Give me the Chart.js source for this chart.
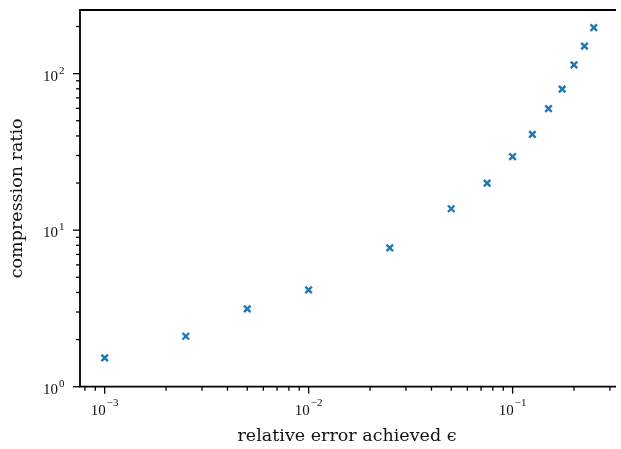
<!DOCTYPE html>
<html>
<head>
<meta charset="utf-8">
<script src="https://cdn.jsdelivr.net/npm/chart.js@4/dist/chart.umd.min.js"></script>
<style>
html, body { margin: 0; padding: 0; overflow: hidden; background: #fff; }
#wrap { width: 621px; height: 449px; position: relative; }
canvas { display: block; }
</style>
</head>
<body>
<div id="wrap"><canvas id="c" width="621" height="449"></canvas></div>
<script>
// ---- data ----
const relErrors = [0.001, 0.0025, 0.005, 0.01, 0.025, 0.05, 0.075, 0.1, 0.125, 0.15, 0.175, 0.2, 0.225, 0.25];
const compressionRatios = [1.53, 2.10, 3.14, 4.15, 7.7, 13.7, 20.0, 29.5, 40.9, 59.8, 79.6, 113.6, 150, 197];

// tick labels: base "10" with a superscript exponent
const xTickValues = [0.001, 0.01, 0.1];
const xTickExponents = ['\u22123', '\u22122', '\u22121'];
const yTickValues = [1, 10, 100];
const yTickExponents = ['0', '1', '2'];
const tickBase = '10';

const xTitle = 'relative error achieved \u03F5';
const yTitle = 'compression ratio';

const TITLE_FONT = "'DejaVu Serif', serif";
const TICK_FONT = "'Liberation Serif', 'DejaVu Serif', serif";

function logTicks(min, max) {
  const out = [];
  const e0 = Math.floor(Math.log10(min)), e1 = Math.ceil(Math.log10(max));
  for (let e = e0; e <= e1; e++) {
    for (let m = 1; m <= 9; m++) {
      const v = parseFloat((m * Math.pow(10, e)).toPrecision(6));
      if (v >= min * 0.9999 && v <= max * 1.0001) out.push({ value: v, major: m === 1 });
    }
  }
  return out;
}

function noPad(s) { s.paddingTop = 0; s.paddingBottom = 0; s.paddingLeft = 0; s.paddingRight = 0; }

const framePlugin = {
  id: 'frame',
  afterDatasetsDraw(chart) {
    const { ctx, chartArea: a } = chart;
    const xs = chart.scales.x, ys = chart.scales.y;
    ctx.save();
    ctx.strokeStyle = '#000';
    ctx.lineCap = 'butt';
    // tick marks (major long, minor short, outward)
    ctx.lineWidth = 1.3;
    xs.ticks.forEach(t => {
      const px = xs.getPixelForValue(t.value);
      const len = t.major ? 7 : 4;
      ctx.beginPath(); ctx.moveTo(px, a.bottom); ctx.lineTo(px, a.bottom + len); ctx.stroke();
    });
    ys.ticks.forEach(t => {
      const py = ys.getPixelForValue(t.value);
      const len = t.major ? 7 : 4;
      ctx.beginPath(); ctx.moveTo(a.left, py); ctx.lineTo(a.left - len, py); ctx.stroke();
    });
    // axes frame (right spine lies beyond the visible edge, as in the reference)
    ctx.lineWidth = 1.8;
    ctx.beginPath();
    ctx.moveTo(a.right + 2, a.top);
    ctx.lineTo(a.left, a.top);
    ctx.lineTo(a.left, a.bottom);
    ctx.lineTo(a.right + 2, a.bottom);
    ctx.stroke();

    // tick labels 10^k
    ctx.fillStyle = '#111';
    ctx.textBaseline = 'alphabetic';
    ctx.textAlign = 'left';
    const baseFont = '15px ' + TICK_FONT;
    const expFont = '11px ' + TICK_FONT;
    xTickValues.forEach((v, i) => {
      const px = xs.getPixelForValue(v);
      ctx.font = baseFont; const wb = ctx.measureText(tickBase).width;
      ctx.font = expFont; const we = ctx.measureText(xTickExponents[i]).width;
      const x0 = px - (wb + 1 + we) / 2;
      const yb = a.bottom + 27.8;
      ctx.font = baseFont; ctx.fillText(tickBase, x0, yb);
      ctx.font = expFont; ctx.fillText(xTickExponents[i], x0 + wb + 1, yb - 8.5);
    });
    yTickValues.forEach((v, i) => {
      const py = ys.getPixelForValue(v);
      ctx.font = baseFont; const wb = ctx.measureText(tickBase).width;
      ctx.font = expFont; const we = ctx.measureText(yTickExponents[i]).width;
      const xr = a.left - 15.5;
      const x0 = xr - we - 1 - wb;
      ctx.font = baseFont; ctx.fillText(tickBase, x0, py + 7.3);
      ctx.font = expFont; ctx.fillText(yTickExponents[i], x0 + wb + 1, py + 0.3);
    });
    ctx.restore();
  }
};

new Chart(document.getElementById('c'), {
  type: 'scatter',
  data: {
    datasets: [{
      data: relErrors.map((x, i) => ({ x: x, y: compressionRatios[i] })),
      pointStyle: 'crossRot',
      pointRadius: 4.6,
      pointHoverRadius: 4.6,
      borderColor: '#1f77b4',
      backgroundColor: '#1f77b4',
      pointBorderWidth: 2.4,
      borderWidth: 2.4
    }]
  },
  options: {
    responsive: false,
    maintainAspectRatio: false,
    animation: false,
    events: [],
    layout: { padding: { top: 10, right: 0, left: 0, bottom: 0 } },
    plugins: { legend: { display: false }, tooltip: { enabled: false } },
    scales: {
      x: {
        type: 'logarithmic',
        min: 7.57e-4,
        max: 0.3141,
        grid: { display: false, drawTicks: false },
        border: { display: false },
        afterBuildTicks: s => { s.ticks = logTicks(s.min, s.max); },
        afterFit: s => { s.height = 62.3; noPad(s); },
        ticks: { display: false, autoSkip: false, maxRotation: 0, minRotation: 0 },
        title: {
          display: true, text: xTitle, color: '#111',
          font: { family: TITLE_FONT, size: 17.5 },
          padding: { top: 0, bottom: 2 }
        }
      },
      y: {
        type: 'logarithmic',
        min: 1,
        max: 255,
        grid: { display: false, drawTicks: false },
        border: { display: false },
        afterBuildTicks: s => { s.ticks = logTicks(s.min, s.max); },
        afterFit: s => { s.width = 80; noPad(s); },
        ticks: { display: false, autoSkip: false },
        title: {
          display: true, text: yTitle, color: '#111',
          font: { family: TITLE_FONT, size: 17.5 },
          padding: { top: 6.5, bottom: 0 }
        }
      }
    }
  },
  plugins: [framePlugin]
});
</script>
</body>
</html>
